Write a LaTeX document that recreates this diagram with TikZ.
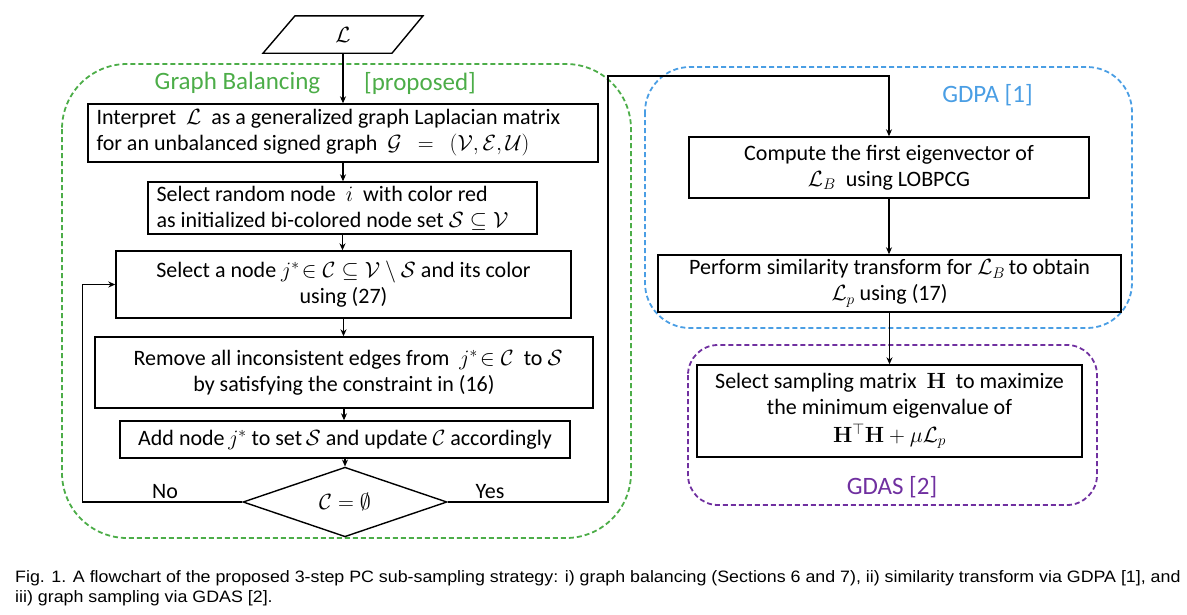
\RequirePackage{fix-cm}
\documentclass[tikz,border=0pt]{standalone}
\usepackage[no-math]{fontspec}
\setmainfont{Carlito}
\newfontfamily\capfont[FakeStretch=1.08]{Liberation Sans}
\usetikzlibrary{arrows.meta,shapes.geometric}
\definecolor{gbgreen}{RGB}{76,173,72}
\definecolor{gdblue}{RGB}{74,158,228}
\definecolor{gspurple}{RGB}{112,48,160}
\begin{document}
\begin{tikzpicture}[x=1pt,y=-1pt,
  txt/.style={font=\fontsize{22}{26}\selectfont},
  box/.style={txt, draw=black, line width=1.4pt, inner sep=0pt},
  arr/.style={-{Stealth[length=7pt,width=6pt]}, line width=1.2pt},
  grp/.style={line width=1.8pt, dash pattern=on 5pt off 3pt},
  grplabel/.style={font=\fontsize{25}{28}\selectfont, inner sep=0pt},
  captext/.style={font=\capfont\fontsize{16.5}{20}\selectfont, inner sep=0pt, anchor=base west}
]
\useasboundingbox (0,0) rectangle (1187,614);

% group frames
\draw[grp, gbgreen, rounded corners=65pt] (62,64) rectangle (631,538);
\draw[grp, gdblue, rounded corners=45pt] (645,67) rectangle (1132,328);
\draw[grp, gspurple, rounded corners=30pt] (688,345) rectangle (1097,505);

\node[grplabel, text=gbgreen] (lgb) at (237.5,83) {Graph Balancing};
\node[grplabel, text=gbgreen] (lpr) at (420,83) {[proposed]};
\node[grplabel, text=gdblue] (lgd) at (987.5,95) {GDPA [1]};
\node[grplabel, text=gspurple] (lga) at (892,487) {GDAS [2]};

% input parallelogram
\node[txt, inner sep=0pt, minimum height=37pt] (inp) at (343,34.5) {$\mathcal{L}$};
\draw[line width=1.4pt] ([xshift=-80pt]inp.south) -- ([xshift=-48pt]inp.north)
  -- ([xshift=80pt]inp.north) -- ([xshift=49pt]inp.south) -- cycle;

% left column
\node[box, minimum width=510pt, minimum height=58pt] (b1) at (343,133) {};
\node[txt, inner sep=0pt, anchor=west, align=left] (t1) at ([xshift=9pt]b1.west)
  {Interpret \ $\mathcal{L}$ \ as a generalized graph Laplacian matrix\\
   for an unbalanced signed graph \ $\mathcal{G}\ \ =\ \ (\mathcal{V},\mathcal{E},\mathcal{U})$};
\node[box, minimum width=389pt, minimum height=52pt] (b2) at (342.5,208) {};
\node[txt, inner sep=0pt, anchor=west, align=left] (t2) at ([xshift=9pt]b2.west)
  {Select random node \ $i$ \ with color red\\
   as initialized bi-colored node set $\mathcal{S}\subseteq\mathcal{V}$};
\node[box, minimum width=455pt, minimum height=67pt, align=center] (b3) at (343.5,284.5)
  {Select a node $j^*\!\in\mathcal{C}\subseteq\mathcal{V}\setminus\mathcal{S}$ and its color\\ using (27)};
\node[box, minimum width=498pt, minimum height=71pt, align=center] (b4) at (344,372.5)
  {\hspace*{8pt}Remove all inconsistent edges from \ $j^*\!\in\mathcal{C}$ \ to $\mathcal{S}$\\
   by satisfying the constraint in (16)};
\node[box, minimum width=450pt, minimum height=37pt, align=center] (b5) at (345,439.5)
  {Add node\,$j^*$ to set\,$\mathcal{S}$ and update $\mathcal{C}$ accordingly};
\node[box, diamond, minimum width=204pt, minimum height=52pt] (dia) at (345,502)
  {$\mathcal{C}=\emptyset$};

% right column
\node[box, minimum width=400pt, minimum height=61pt, align=center] (b6) at (889,167.5)
  {Compute the first eigenvector of\\ $\mathcal{L}_B$ \ using LOBPCG};
\node[box, minimum width=463pt, minimum height=57pt, align=center] (b7) at (889.5,283.5)
  {Perform similarity transform for $\mathcal{L}_B$\,to obtain\\ $\mathcal{L}_p$ using (17)};
\node[box, minimum width=385pt, minimum height=92pt, align=center] (b8) at (889.5,411)
  {Select sampling matrix \ $\mathbf{H}$ \ to maximize\\ the minimum eigenvalue of\\[2pt]
   $\mathbf{H}^{\top}\mathbf{H}+\mu\mathcal{L}_p$};

\node[txt, inner sep=0pt] (no) at (165,492) {No};
\node[txt, inner sep=0pt] (yes) at (490,492) {Yes};
\coordinate (yc) at (608,76);

% connectors
\draw[arr] (inp.south) -- (inp.south |- b1.north);
\draw[arr] (b1.south) -- (b1.south |- b2.north);
\draw[arr] (b2.south) -- (b2.south |- b3.north);
\draw[arr] (b3.south) -- (b3.south |- b4.north);
\draw[arr] (b4.south) -- (b4.south |- b5.north);
\draw[arr] (b5.south) -- (b5.south |- dia.north);
\draw[arr] (dia.west) -- ++(-160,0) |- (b3.west);
\draw[arr] (dia.east) -| (yc) -| (b6.north);
\draw[arr] (b6.south) -- (b6.south |- b7.north);
\draw[arr] (b7.south) -- (b7.south |- b8.north);

% caption
\node[captext] (c1) at (15,582) {Fig. 1. A flowchart of the proposed 3-step PC sub-sampling strategy: i) graph balancing (Sections 6 and 7), ii) similarity transform via GDPA [1], and};
\node[captext] (c2) at (15,602) {iii) graph sampling via GDAS [2].};
\end{tikzpicture}
\end{document}
